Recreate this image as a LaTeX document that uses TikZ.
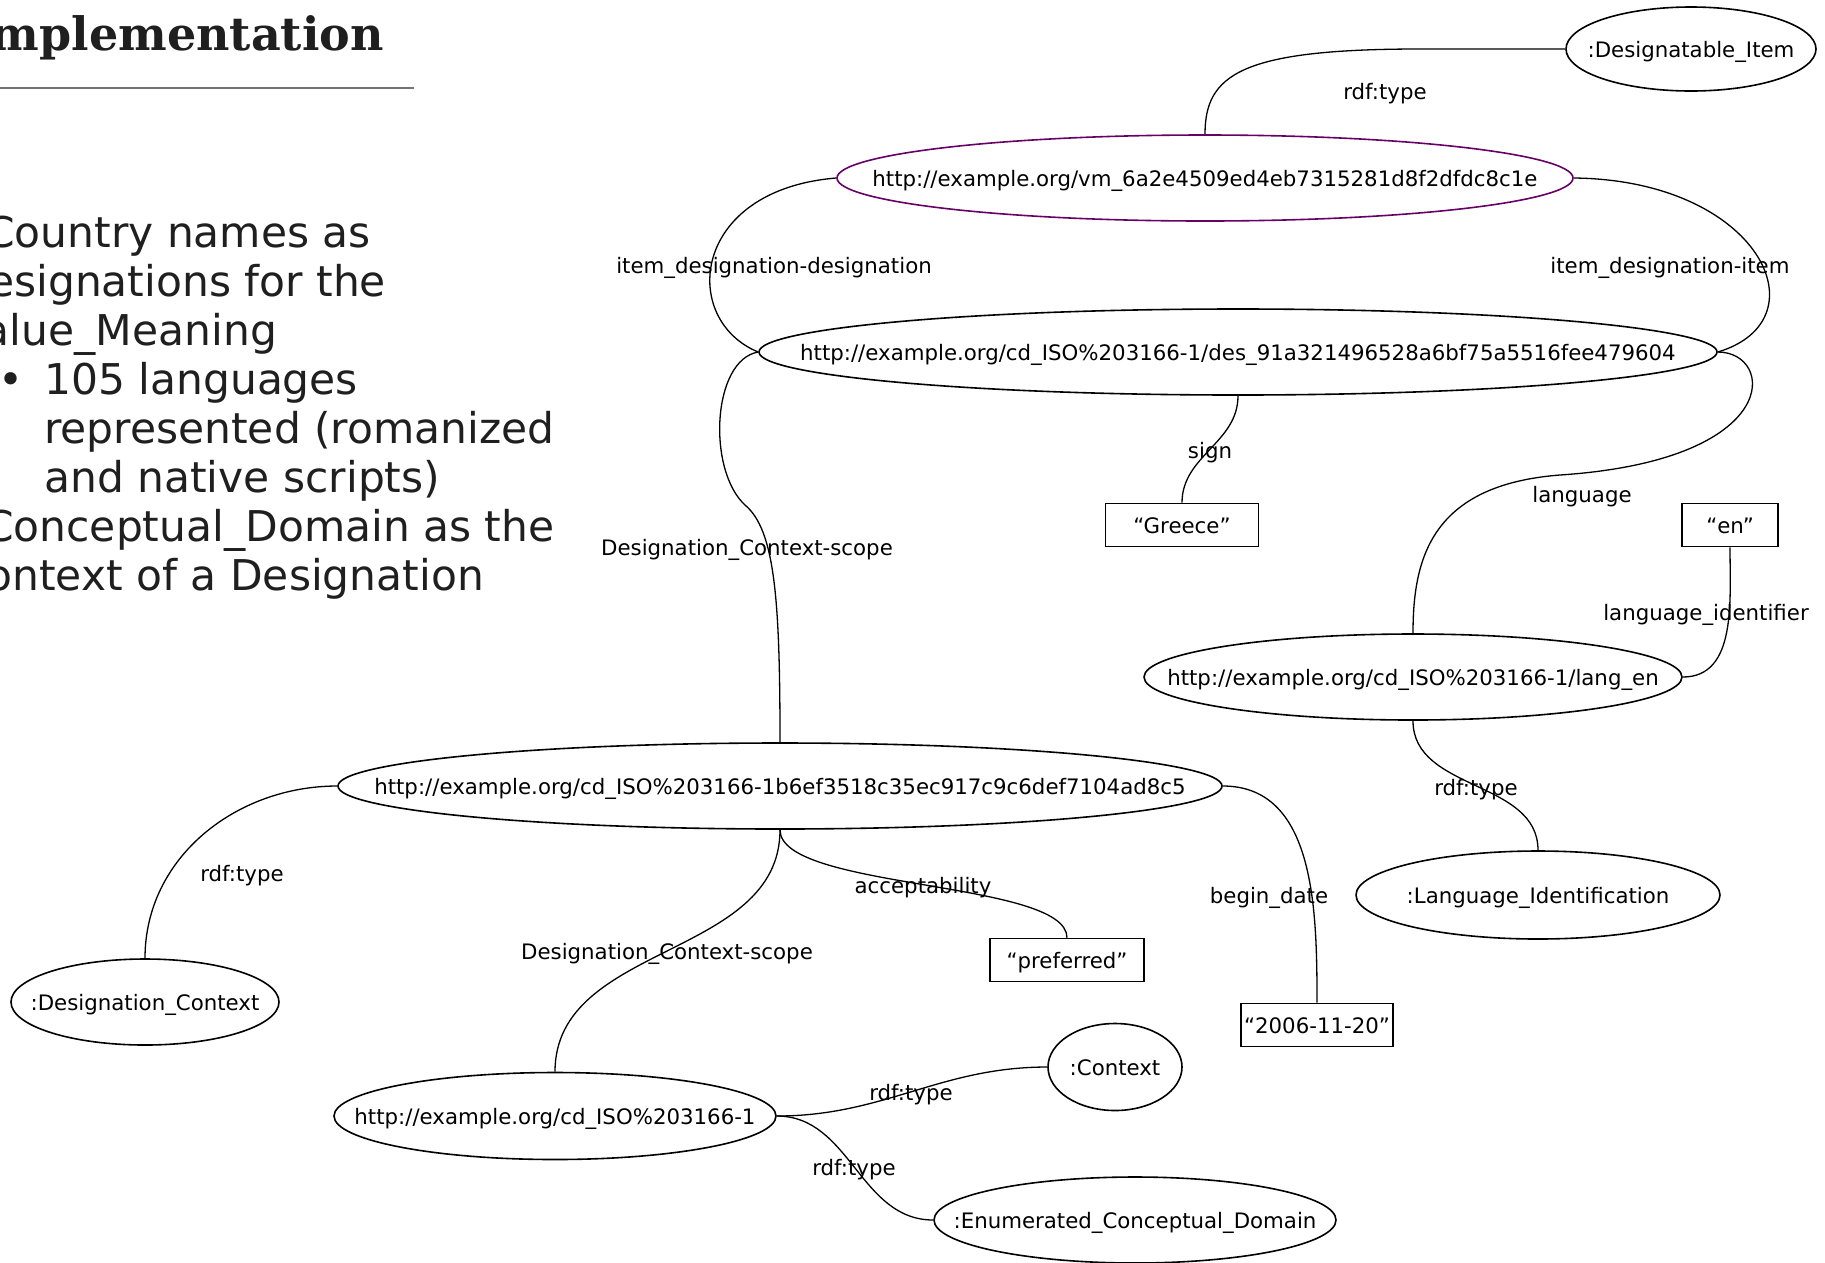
\documentclass[tikz,border=0pt]{standalone}
\usepackage{fontspec}
\setmainfont{DejaVu Sans}
\newfontfamily\headfont{DejaVu Serif}
\usetikzlibrary{shapes.geometric}
\newcommand\lblsize{\fontsize{21.3}{25}\selectfont}
\newcommand\zw[1]{\makebox[0pt]{\raisebox{-8pt}[0pt][0pt]{#1}}}

\begin{document}
\begin{tikzpicture}[x=1pt,y=-1pt,
    res/.style={ellipse,draw,line width=1.6pt,inner sep=0pt,font=\lblsize},
    lit/.style={rectangle,draw,line width=1.6pt,inner sep=0pt,font=\lblsize,minimum height=43pt},
    lbl/.style={font=\lblsize,inner sep=0pt,yshift=-2.5pt},
    link/.style={line width=1.3pt},
    bul/.style={anchor=base west,inner sep=0pt,text=black!88,font=\fontsize{42.4}{49}\selectfont}]
    \useasboundingbox (0,0) rectangle (1825,1262);
    \clip (0,0) rectangle (1825,1262);

    % slide text
    \node[anchor=base east,inner sep=0pt,text=black!88,font=\headfont\bfseries\fontsize{46}{52}\selectfont] (title) at (384,50) {Implementation};
    \draw[black!55,line width=1.2pt] (-5,88) -- (414,88);
    \foreach \tx/\ty/\tt [count=\i] in {-15/247/Country names as, -39/296/designations for the,
        -42/345/Value\_Meaning, -2/394/•, 44/394/105 languages, 44/443/represented (romanized,
        44/492/and native scripts), -16/541/Conceptual\_Domain as the, -37/590/context of a Designation}
        \node[bul] (ln\i) at (\tx,\ty) {\tt};

    % resources and literals
    \node[res,minimum width=250pt,minimum height=84pt] (item) at (1691,49) {\zw{:Designatable\_Item}};
    \node[res,draw=violet!80!black,minimum width=736pt,minimum height=86pt] (vm) at (1205,178) {\zw{http://example.org/vm\_6a2e4509ed4eb7315281d8f2dfdc8c1e}};
    \node[res,minimum width=958pt,minimum height=86pt] (des) at (1238,352) {\zw{http://example.org/cd\_ISO\%203166-1/des\_91a321496528a6bf75a5516fee479604}};
    \node[lit,minimum width=153pt] (greece) at (1182,525) {\zw{“Greece”}};
    \node[lit,minimum width=96pt] (en) at (1730,525) {\zw{“en”}};
    \node[res,minimum width=538pt,minimum height=86pt] (lang) at (1413,677) {\zw{http://example.org/cd\_ISO\%203166-1/lang\_en}};
    \node[res,minimum width=884pt,minimum height=86pt] (cd) at (780,786) {\zw{http://example.org/cd\_ISO\%203166-1b6ef3518c35ec917c9c6def7104ad8c5}};
    \node[res,minimum width=364pt,minimum height=88pt] (lid) at (1538,895) {\zw{:Language\_Identification}};
    \node[lit,minimum width=154pt] (pref) at (1067,960) {\zw{“preferred”}};
    \node[lit,minimum width=152pt] (date) at (1317,1025) {\zw{“2006-11-20”}};
    \node[res,minimum width=268pt,minimum height=86pt] (dctx) at (145,1002) {\zw{:Designation\_Context}};
    \node[res,minimum width=442pt,minimum height=87pt] (iso) at (555,1116) {\zw{http://example.org/cd\_ISO\%203166-1}};
    \node[res,minimum width=134pt,minimum height=87pt] (ctx) at (1115,1067) {\zw{:Context}};
    \node[res,minimum width=402pt,minimum height=86pt] (enum) at (1135,1220) {\zw{:Enumerated\_Conceptual\_Domain}};

    % links
    \draw[link] (vm.north) .. controls (1205,75) and (1240,49) .. (1420,49) -- (item.west);
    \draw[link] (vm.west) .. controls (690,190) and (680,320) .. (des.west);
    \draw[link] (vm.east) .. controls (1760,180) and (1825,320) .. (des.east);
    \draw[link] (des.south) to[out=-90,in=90] (greece.north);
    \draw[link] (des.east) .. controls (1775,352) and (1785,460) .. (1560,475)
        .. controls (1430,485) and (1413,560) .. (lang.north);
    \draw[link] (des.west) .. controls (712,360) and (707,470) .. (745,505)
        .. controls (775,530) and (780,600) .. (cd.north);
    \draw[link] (lang.east) to[out=0,in=-90] (en.south);
    \draw[link] (lang.south) to[out=-90,in=90] (lid.north);
    \draw[link] (cd.west) to[out=180,in=90] (dctx.north);
    \draw[link] (cd.south) to[out=-90,in=90] (iso.north);
    \draw[link] (cd.south) .. controls (780,890) and (1067,880) .. (pref.north);
    \draw[link] (cd.east) to[out=0,in=90] (date.north);
    \draw[link] (iso.east) to[out=0,in=180] (ctx.west);
    \draw[link] (iso.east) to[out=0,in=180] (enum.west);

    % link labels
    \node[lbl] (l-type1) at (1385,91) {rdf:type};
    \node[lbl] (l-desig) at (774,265) {item\_designation-designation};
    \node[lbl] (l-item) at (1670,265) {item\_designation-item};
    \node[lbl] (l-sign) at (1210,450) {sign};
    \node[lbl] (l-lang) at (1582,494) {language};
    \node[lbl] (l-ident) at (1706,612) {language\_identifier};
    \node[lbl] (l-scope1) at (747,547) {Designation\_Context-scope};
    \node[lbl] (l-type2) at (1476,787) {rdf:type};
    \node[lbl] (l-type3) at (242,873) {rdf:type};
    \node[lbl] (l-accept) at (923,885) {acceptability};
    \node[lbl] (l-date) at (1269,895) {begin\_date};
    \node[lbl] (l-scope2) at (667,951) {Designation\_Context-scope};
    \node[lbl] (l-type4) at (911,1092) {rdf:type};
    \node[lbl] (l-type5) at (854,1167) {rdf:type};
\end{tikzpicture}
\end{document}
